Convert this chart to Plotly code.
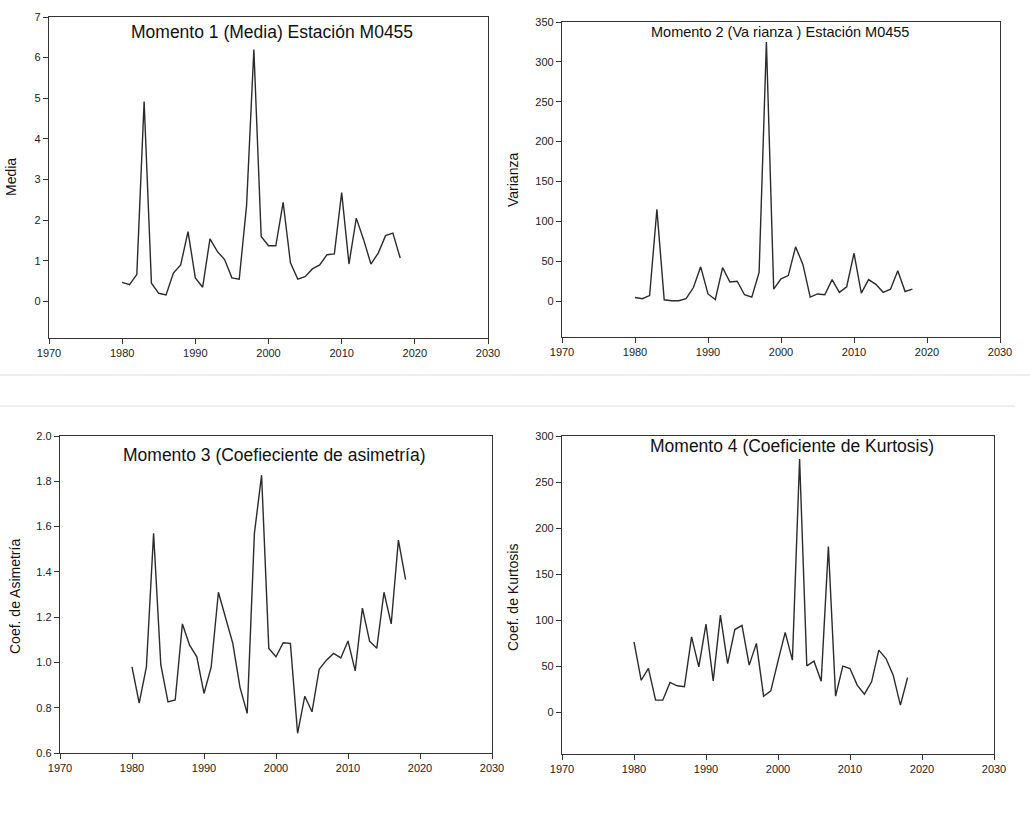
import plotly.graph_objects as go
from plotly.subplots import make_subplots

years = list(range(1980, 2019))

media = [0.47, 0.41, 0.66, 4.92, 0.45, 0.20, 0.16, 0.70, 0.90, 1.72,
         0.58, 0.35, 1.54, 1.23, 1.03, 0.58, 0.55, 2.35, 6.20, 1.60,
         1.37, 1.37, 2.44, 0.95, 0.55, 0.61, 0.80, 0.90, 1.15, 1.17,
         2.68, 0.92, 2.05, 1.52, 0.92, 1.19, 1.62, 1.68, 1.07]

varianza = [4.6, 3, 7, 115, 1.7, 0.5, 0.5, 3, 17, 43,
            9, 2, 42, 24, 25, 8, 5, 36, 325, 15,
            28, 32, 68, 46, 5, 9, 8, 27, 11, 18,
            60, 10, 27, 21, 11, 15, 38, 12, 15]

asimetria = [0.98, 0.82, 0.98, 1.57, 0.99, 0.826, 0.834, 1.17, 1.076, 1.025,
             0.863, 0.98, 1.31, 1.20, 1.084, 0.89, 0.775, 1.57, 1.827, 1.062,
             1.025, 1.087, 1.084, 0.687, 0.851, 0.782, 0.97, 1.01, 1.04, 1.02,
             1.095, 0.963, 1.24, 1.094, 1.063, 1.31, 1.17, 1.54, 1.366]

kurtosis = [76.7, 35, 48, 13.4, 13.4, 32.6, 29, 27.9, 82, 49.6,
            96, 34.4, 105.7, 53, 90, 94.5, 51.4, 75, 17.7, 23.5,
            55.7, 86.9, 56.8, 275, 50.7, 55.7, 34, 180, 17.7, 50.3,
            47.8, 29.7, 19.9, 33.3, 67.7, 58.6, 40.5, 8, 38]

x_ticks = [1970, 1980, 1990, 2000, 2010, 2020, 2030]

W, H = 1030, 813
FONT = "Liberation Sans, Arial, sans-serif"

# (row, col, values, y range, y ticks, tick format, title, y title)
panels = [
    (1, 1, media, [-0.9, 7], list(range(0, 8)), "d",
     "Momento 1 (Media) Estación M0455", "Media"),
    (1, 2, varianza, [-45, 350], list(range(0, 351, 50)), "d",
     "Momento 2 (Va rianza ) Estación M0455", "Varianza"),
    (2, 1, asimetria, [0.6, 2.0], [0.6, 0.8, 1.0, 1.2, 1.4, 1.6, 1.8, 2.0], ".1f",
     "Momento 3 (Coefieciente de asimetría)", "Coef. de Asimetría"),
    (2, 2, kurtosis, [-45, 300], list(range(0, 301, 50)), "d",
     "Momento 4 (Coeficiente de Kurtosis)", "Coef. de Kurtosis"),
]

# plot areas in pixels: x0, x1, y0 (top), y1 (bottom)
boxes = [(49, 488, 17, 338), (562, 1000, 22, 337),
         (60, 492, 436, 753), (562, 994, 436, 754)]
# title centre (x, y, size) and y-title centre (x, y)
titles = [(272, 32, 17.5), (780, 32, 14.5), (274, 455, 17.5), (792, 446, 17.5)]
ytitles = [(11, 177), (513, 180), (15, 597), (513, 598)]

fig = make_subplots(rows=2, cols=2)

for i, (r, c, vals, yr, yt, fmt, title, ytitle) in enumerate(panels):
    fig.add_trace(go.Scatter(x=years, y=vals, mode="lines",
                             line=dict(color="#2b2b2b", width=1.4),
                             showlegend=False), row=r, col=c)
    x0, x1, y0, y1 = boxes[i]
    axis_style = dict(showline=True, linecolor="#333", linewidth=1.3,
                      mirror=True, ticks="outside", ticklen=5, tickwidth=1,
                      tickcolor="#333", showgrid=False, zeroline=False,
                      automargin=False,
                      tickfont=dict(family=FONT, size=11, color="#222"))
    fig.update_xaxes(range=[1970, 2030], tickvals=x_ticks,
                     domain=[x0 / W, x1 / W], **axis_style, row=r, col=c)
    fig.update_yaxes(range=yr, tickvals=yt, tickformat=fmt,
                     domain=[1 - y1 / H, 1 - y0 / H], **axis_style, row=r, col=c)
    tx, ty, ts = titles[i]
    fig.add_annotation(text=title, x=tx / W, y=1 - ty / H, xref="paper", yref="paper",
                       showarrow=False, xanchor="center", yanchor="middle",
                       font=dict(family=FONT, size=ts, color="#111"))
    yx, yy = ytitles[i]
    fig.add_annotation(text=ytitle, x=yx / W, y=1 - yy / H, xref="paper", yref="paper",
                       showarrow=False, xanchor="center", yanchor="middle", textangle=-90,
                       font=dict(family=FONT, size=14, color="#111"))

# faint separator lines between the top and bottom rows
fig.add_shape(type="line", xref="paper", yref="paper", x0=0, x1=1,
              y0=1 - 375 / H, y1=1 - 375 / H, line=dict(color="#dddddd", width=1))
fig.add_shape(type="line", xref="paper", yref="paper", x0=0, x1=1015 / W,
              y0=1 - 406 / H, y1=1 - 406 / H, line=dict(color="#dddddd", width=1))

fig.update_layout(width=W, height=H, margin=dict(l=0, r=0, t=0, b=0),
                  plot_bgcolor="white", paper_bgcolor="white")

# drop the page's default body margin so the figure sits at the window corner
fig.write_html("out.html", config={"displayModeBar": False},
               post_script="document.body.style.margin = '0';")
